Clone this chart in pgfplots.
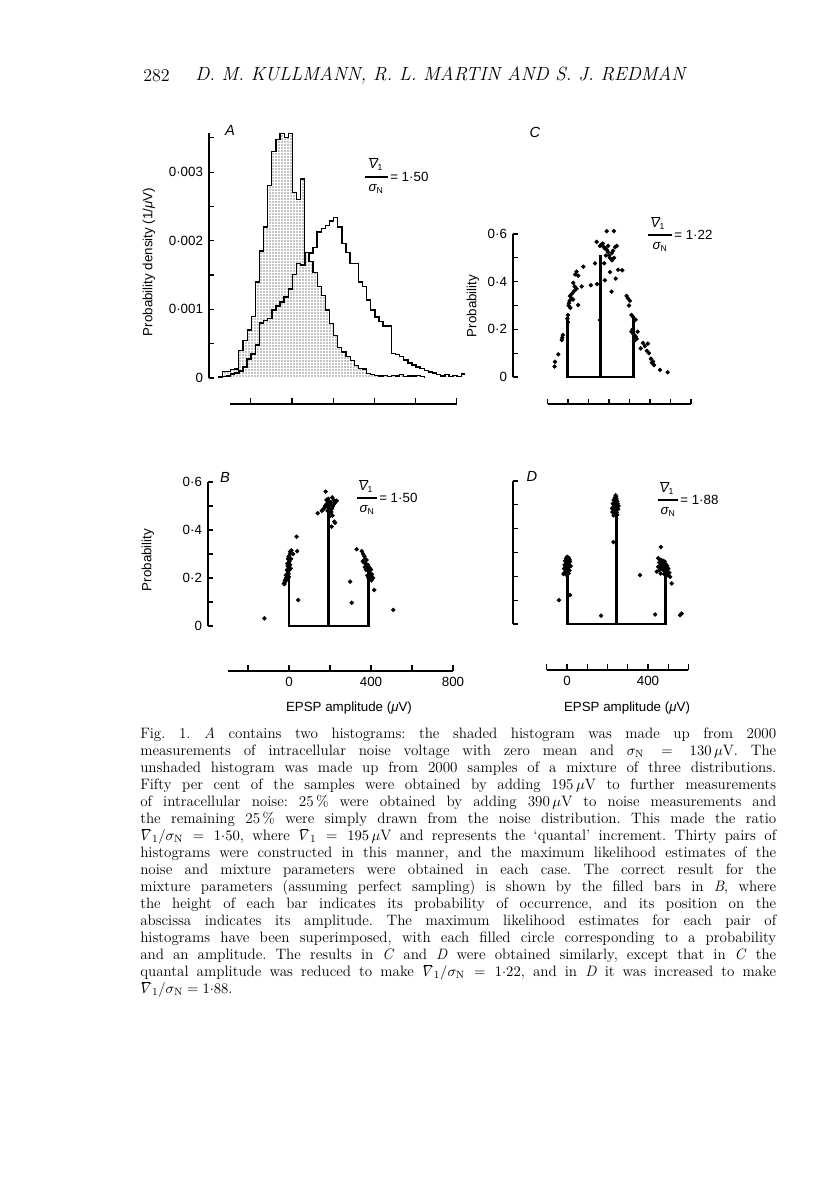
\documentclass[border=0pt]{standalone}
\usepackage{fontspec}
\setsansfont{Liberation Sans}
\usepackage{amsmath}
\usepackage{pgfplots}
\pgfplotsset{compat=1.18}
\usetikzlibrary{patterns}
\pgfdeclarepatternformonly{finedots}{\pgfqpoint{-1pt}{-1pt}}{\pgfqpoint{1pt}{1pt}}{\pgfqpoint{2.25pt}{2.25pt}}{\pgfpathcircle{\pgfqpoint{0pt}{0pt}}{.5pt}\pgfusepath{fill}}

\pgfplotsset{
  panel/.style={scale only axis, clip=false, anchor=south west,
    axis x line=none, axis y line*=left, ytick align=inside,
    major tick length=3.8pt, minor tick length=3.6pt,
    tick style={black, line width=0.9pt},
    axis line style={line width=0.9pt},
    tick label style={font=\sffamily\fontsize{10}{12}\selectfont},
    yticklabel style={xshift=-1pt},
    scaled y ticks=false},
  xonly/.style={scale only axis, anchor=south west, height=1pt, ymin=0, ymax=1,
    axis y line=none, axis x line*=bottom, xtick align=inside,
    major tick length=4.5pt,
    tick style={black, line width=0.9pt},
    axis line style={line width=0.9pt},
    tick label style={font=\sffamily\fontsize{10}{12}\selectfont},
    xticklabel style={yshift=-1pt},
    scaled x ticks=false},
  dots/.style={only marks, mark=*, mark size=1.45pt, mark options={fill=black, draw=black}},
  bars/.style={line width=2.2pt, black, line join=miter}
}
\newcommand\sfl{\sffamily\fontsize{10}{12}\selectfont}
\newcommand\Vbar{$\overline{\mbox{\itshape V}}{}_{\mbox{\fontsize{6.5}{7}\selectfont 1}}$}
\newcommand\sig{{\itshape σ}\textsubscript{\fontsize{6.5}{7}\selectfont N}}
% caption V-bar with a low bar, so that it stays clear of the line above
\newcommand\Vb{\mbox{\ooalign{$V$\cr\kern1.6pt\rule[8.1pt]{5.6pt}{0.45pt}\cr}}}

\begin{document}
\begin{tikzpicture}
\path[use as bounding box] (0pt,0pt) rectangle (612pt,-887.25pt);

% ---------------- Panel A ----------------
\begin{axis}[panel, at={(156.75pt,-283.5pt)},
  width=196.99pt, height=183.75pt,
  xmin=-405, xmax=870, ymin=0, ymax=0.00357,
  ytick={0,0.001,0.002,0.003},
  yticklabels={\textsf{0},\textsf{0·001},\textsf{0·002},\textsf{0·003}},
  minor ytick={0.0005,0.0015,0.0025,0.0035}]
\addplot[const plot, draw=black, line width=0.9pt, pattern=finedots, pattern color=black] coordinates {
(-360,0) (-360,0.00002) (-340,0.00009) (-320,0.00009) (-300,0.00012) (-280,0.00013)
(-260,0.0004) (-240,0.00055) (-220,0.0007) (-200,0.0009) (-180,0.0014) (-160,0.00185)
(-140,0.0022) (-120,0.0028) (-100,0.0033) (-80,0.00347) (-60,0.00356) (-40,0.0035)
(-20,0.00356) (0,0.0027) (20,0.0026) (40,0.0029) (60,0.00183) (80,0.0017) (100,0.00154)
(120,0.00133) (140,0.0012) (160,0.00099) (180,0.00079) (200,0.00062) (220,0.00045)
(240,0.00038) (260,0.00031) (280,0.00026) (300,0.00018) (320,0.00014) (340,0.00013)
(360,0.00006) (380,0.00005) (400,0.00004) (420,0.00003) (440,0.00004) (460,0.00002)
(480,0.00004) (500,0.00003) (520,0.00005) (540,0.00002) (560,0.00003) (580,0.00003)
(600,0.00004) (620,0.00002) (640,0)};
\addplot[const plot, draw=black, line width=1.1pt] coordinates {
(-360,0) (-360,0.00001) (-340,0.00002) (-320,0.00003) (-300,0.00006) (-280,0.00007)
(-260,0.0001) (-240,0.00016) (-220,0.00028) (-200,0.00035) (-180,0.00048) (-160,0.0008)
(-140,0.00084) (-120,0.00087) (-100,0.00099) (-80,0.00105) (-60,0.00111) (-40,0.00118)
(-20,0.0013) (0,0.00151) (20,0.00167) (40,0.00165) (60,0.00183) (80,0.00182) (100,0.0019)
(120,0.00213) (140,0.00218) (160,0.00222) (180,0.00229) (200,0.00234) (220,0.0022)
(240,0.00196) (260,0.00183) (280,0.00167) (300,0.00167) (320,0.0014) (340,0.00133)
(360,0.00114) (380,0.00099) (400,0.00089) (420,0.00082) (440,0.00076) (460,0.00076)
(480,0.00036) (500,0.00034) (520,0.00031) (540,0.00026) (560,0.00022) (580,0.00019)
(600,0.00016) (620,0.00014) (640,0.00011) (660,0.00009) (680,0.00007) (700,0.00005)
(720,0.00003) (740,0.00005) (760,0.00002) (780,0.00004) (800,0.00002) (820,0.00006)
(840,0.00006)};
\end{axis}
\begin{axis}[xonly, at={(172.65pt,-303pt)}, width=169.95pt,
  xmin=-300, xmax=800, xtick={-200,0,200,400,600,800}, xticklabels={}]
\end{axis}

% ---------------- Panel C ----------------
\begin{axis}[panel, at={(384.75pt,-282.75pt)},
  width=133.45pt, height=107.25pt,
  xmin=-268, xmax=600, ymin=0, ymax=0.6,
  ytick={0,0.2,0.4,0.6},
  yticklabels={\textsf{0},\textsf{0·2},\textsf{0·4},\textsf{0·6}},
  minor ytick={0.1,0.3,0.5}]
\addplot[bars] coordinates {(0,0.25) (0,0) (319,0) (319,0.25)};
\addplot[bars] coordinates {(160,0) (160,0.51)};
\addplot[dots] coordinates {
(189,0.612) (224,0.612) (140,0.567) (156,0.55) (162,0.555) (175,0.545) (180,0.54)
(188,0.535) (195,0.525) (185,0.51) (200,0.51) (213,0.52) (220,0.53) (230,0.545)
(238,0.55) (205,0.5) (132,0.477) (177,0.477) (205,0.44) (245,0.45) (265,0.448)
(233,0.413) (180,0.406) (213,0.358) (215,0.49) (225,0.5) (196,0.55) (170,0.56)
(75,0.463) (42,0.442) (35,0.43) (50,0.425) (26,0.395) (33,0.38) (42,0.37) (67,0.38)
(112,0.385) (142,0.39) (10,0.34) (18,0.33) (8,0.32) (25,0.325) (5,0.31) (50,0.302)
(3,0.3) (12,0.29) (0,0.26) (-3,0.245) (-25,0.176) (-28,0.165) (-30,0.155) (-47,0.095)
(-63,0.064) (-65,0.044) (20,0.35) (30,0.36) (0,0.23) (156,0.239)
(286,0.34) (293,0.33) (302,0.32) (310,0.26) (318,0.252) (327,0.24) (310,0.19)
(320,0.18) (330,0.17) (335,0.16) (325,0.175) (340,0.19) (315,0.2) (322,0.15)
(366,0.143) (375,0.13) (385,0.11) (395,0.1) (405,0.077) (410,0.06) (415,0.065)
(420,0.05) (449,0.03) (486,0.02) (390,0.14) (330,0.24) (298,0.3) (355,0.12)};
\end{axis}
\begin{axis}[xonly, at={(410.625pt,-303pt)}, width=107.625pt,
  xmin=-100, xmax=600, xtick={-100,0,...,600}, xticklabels={}, major tick length=3.8pt]
\end{axis}

% ---------------- Panel B ----------------
\begin{axis}[panel, at={(156pt,-469.5pt)},
  width=152.98pt, height=108pt,
  xmin=-395, xmax=600, ymin=0, ymax=0.6,
  ytick={0,0.2,0.4,0.6},
  yticklabels={\textsf{0},\textsf{0·2},\textsf{0·4},\textsf{0·6}},
  minor ytick={0.1,0.3,0.5}]
\addplot[bars] coordinates {(0,0.25) (0,0) (390,0) (390,0.25)};
\addplot[bars] coordinates {(195,0) (195,0.5)};
\addplot[dots] coordinates {
(179,0.56) (211,0.536) (233,0.522) (140,0.47) (165,0.485) (172,0.49) (180,0.5)
(185,0.51) (190,0.495) (195,0.52) (200,0.505) (205,0.515) (210,0.49) (215,0.5)
(218,0.525) (222,0.51) (188,0.48) (198,0.47) (203,0.485) (207,0.475) (212,0.46)
(196,0.455) (221,0.435) (208,0.414) (225,0.43) (192,0.53) (183,0.525) (175,0.5)
(160,0.48) (228,0.52)
(37,0.372) (5,0.31) (12,0.315) (40,0.312) (20,0.3) (-5,0.28) (2,0.27) (-8,0.26)
(0,0.265) (5,0.255) (-3,0.247) (8,0.24) (-10,0.233) (-5,0.225) (-15,0.212) (-2,0.218)
(-20,0.19) (-12,0.2) (-25,0.177) (-18,0.185) (-8,0.195) (0,0.205) (3,0.235) (-6,0.25)
(10,0.28) (-2,0.29) (6,0.3) (-14,0.2) (-22,0.175) (45,0.108) (-120,0.032)
(330,0.32) (355,0.312) (362,0.3) (368,0.29) (372,0.28) (360,0.27) (375,0.26)
(385,0.255) (380,0.25) (390,0.245) (395,0.24) (400,0.235) (385,0.23) (392,0.22)
(405,0.215) (398,0.205) (388,0.2) (395,0.195) (402,0.19) (410,0.2) (382,0.21)
(375,0.235) (370,0.245) (365,0.265) (378,0.275) (416,0.15) (298,0.185) (306,0.097)
(509,0.067) (392,0.225)};
\end{axis}
\begin{axis}[xonly, at={(170.625pt,-503.25pt)}, width=169.125pt,
  xmin=-300, xmax=800, xtick={-200,0,200,400,600,800},
  xticklabels={,\textsf{0},,\textsf{400},,\textsf{800}}]
\end{axis}

% ---------------- Panel D ----------------
\begin{axis}[panel, at={(384.75pt,-468pt)},
  width=131.67pt, height=107.25pt,
  xmin=-267, xmax=600, ymin=0, ymax=0.6,
  ytick={0,0.2,0.4,0.6}, yticklabels={},
  minor ytick={0.1,0.3,0.5}]
\addplot[bars] coordinates {(0,0.25) (0,0) (487,0) (487,0.25)};
\addplot[bars] coordinates {(244,0) (244,0.5)};
\addplot[dots] coordinates {
(240,0.54) (236,0.53) (244,0.525) (230,0.52) (248,0.515) (238,0.51) (226,0.505)
(250,0.505) (234,0.5) (242,0.498) (246,0.49) (228,0.49) (236,0.485) (252,0.482)
(232,0.478) (240,0.475) (224,0.47) (244,0.468) (236,0.462) (248,0.458) (230,0.456)
(242,0.535) (254,0.495) (222,0.485) (229,0.344)
(0,0.282) (8,0.278) (-5,0.275) (12,0.27) (3,0.268) (-10,0.265) (15,0.262) (5,0.258)
(-3,0.255) (10,0.25) (-12,0.248) (0,0.245) (18,0.243) (-8,0.24) (6,0.236) (-15,0.232)
(2,0.228) (12,0.225) (-5,0.22) (-12,0.215) (-18,0.21) (8,0.212) (-2,0.205)
(15,0.121) (-40,0.1) (168,0.035) (360,0.205) (463,0.323)
(450,0.276) (458,0.27) (466,0.268) (474,0.265) (482,0.262) (455,0.258) (470,0.255)
(488,0.25) (462,0.248) (478,0.246) (494,0.244) (450,0.24) (468,0.238) (484,0.235)
(500,0.232) (458,0.228) (476,0.225) (443,0.22) (492,0.22) (505,0.215) (480,0.21)
(496,0.205) (509,0.198) (462,0.212)
(517,0.17) (435,0.04) (558,0.037) (566,0.044)};
\end{axis}
\begin{axis}[xonly, at={(410.06pt,-502.5pt)}, width=106.31pt,
  xmin=-100, xmax=600, xtick={-100,0,...,600},
  xticklabels={,\textsf{0},,,,\textsf{400},,}]
\end{axis}

% ---------------- Text ----------------
\begin{scope}[x=0.75pt,y=-0.75pt]
% header
\node[anchor=west, inner sep=0pt] at (143,76) {\fontsize{13.5}{15}\selectfont 282};
\node[anchor=west, inner sep=0pt] at (195,76) {\fontsize{14.3}{16}\selectfont\itshape D. M. KULLMANN, R. L. MARTIN AND S. J. REDMAN};
% panel letters
\node[inner sep=0pt] at (230,130) {\sffamily\fontsize{11}{13}\selectfont\itshape A};
\node[inner sep=0pt] at (535,132) {\sffamily\fontsize{11}{13}\selectfont\itshape C};
\node[inner sep=0pt] at (225,477) {\sffamily\fontsize{11}{13}\selectfont\itshape B};
\node[inner sep=0pt] at (532,476) {\sffamily\fontsize{11}{13}\selectfont\itshape D};
% y labels
\node[rotate=90, inner sep=0pt] at (149,262) {\sfl Probability density (1/{\itshape μ}V)};
\node[rotate=90, inner sep=0pt] at (473,306) {\sfl Probability};
\node[rotate=90, inner sep=0pt] at (148,560) {\sfl Probability};
% x labels
\node[inner sep=0pt] at (349,708) {\sfl EPSP amplitude ({\itshape μ}V)};
\node[inner sep=0pt] at (627,708) {\sfl EPSP amplitude ({\itshape μ}V)};
% ratio annotations
\draw[line width=2pt] (365,177) -- (388,177);
\node[inner sep=0pt] at (376,164) {\sfl\Vbar};
\node[inner sep=0pt] at (376,189) {\sfl\sig};
\node[anchor=west, inner sep=0pt] at (390,177) {\sfl = 1·50};
\draw[line width=2pt] (357,498) -- (377,498);
\node[inner sep=0pt] at (366,486) {\sfl\Vbar};
\node[inner sep=0pt] at (367,510) {\sfl\sig};
\node[anchor=west, inner sep=0pt] at (379,498) {\sfl = 1·50};
\draw[line width=2pt] (648,235) -- (672,235);
\node[inner sep=0pt] at (658,223) {\sfl\Vbar};
\node[inner sep=0pt] at (660,247) {\sfl\sig};
\node[anchor=west, inner sep=0pt] at (674,235) {\sfl = 1·22};
\draw[line width=2pt] (658,500) -- (678,500);
\node[inner sep=0pt] at (667,488) {\sfl\Vbar};
\node[inner sep=0pt] at (668,512) {\sfl\sig};
\node[anchor=west, inner sep=0pt] at (680,500) {\sfl = 1·88};
% caption
\node[anchor=north west, inner sep=0pt, text width=477pt, align=justify,
      font=\fontsize{11.3}{12.75}\selectfont\frenchspacing] at (140,727) {%
Fig. 1. \textit{A} contains two histograms: the shaded histogram was made up from 2000\linebreak
measurements of intracellular noise voltage with zero mean and $\sigma_{\mathrm{N}} = 130\,\mu$V. The\linebreak
unshaded histogram was made up from 2000 samples of a mixture of three distributions.\linebreak
Fifty per cent of the samples were obtained by adding 195\,$\mu$V to further measurements\linebreak
of intracellular noise: 25\,\% were obtained by adding 390\,$\mu$V to noise measurements and\linebreak
the remaining 25\,\% were simply drawn from the noise distribution. This made the ratio\linebreak
$\Vb_1/\sigma_{\mathrm{N}} = 1{\cdot}50$, where $\Vb_1 = 195\,\mu$V and represents the `quantal' increment. Thirty pairs of\linebreak
histograms were constructed in this manner, and the maximum likelihood estimates of the\linebreak
noise and mixture parameters were obtained in each case. The correct result for the\linebreak
mixture parameters (assuming perfect sampling) is shown by the filled bars in \textit{B}, where\linebreak
the height of each bar indicates its probability of occurrence, and its position on the\linebreak
abscissa indicates its amplitude. The maximum likelihood estimates for each pair of\linebreak
histograms have been superimposed, with each filled circle corresponding to a probability\linebreak
and an amplitude. The results in \textit{C} and \textit{D} were obtained similarly, except that in \textit{C} the\linebreak
quantal amplitude was reduced to make $\Vb_1/\sigma_{\mathrm{N}} = 1{\cdot}22$, and in \textit{D} it was increased to make\linebreak
$\Vb_1/\sigma_{\mathrm{N}} = 1{\cdot}88$.};
\end{scope}
\end{tikzpicture}
\end{document}
